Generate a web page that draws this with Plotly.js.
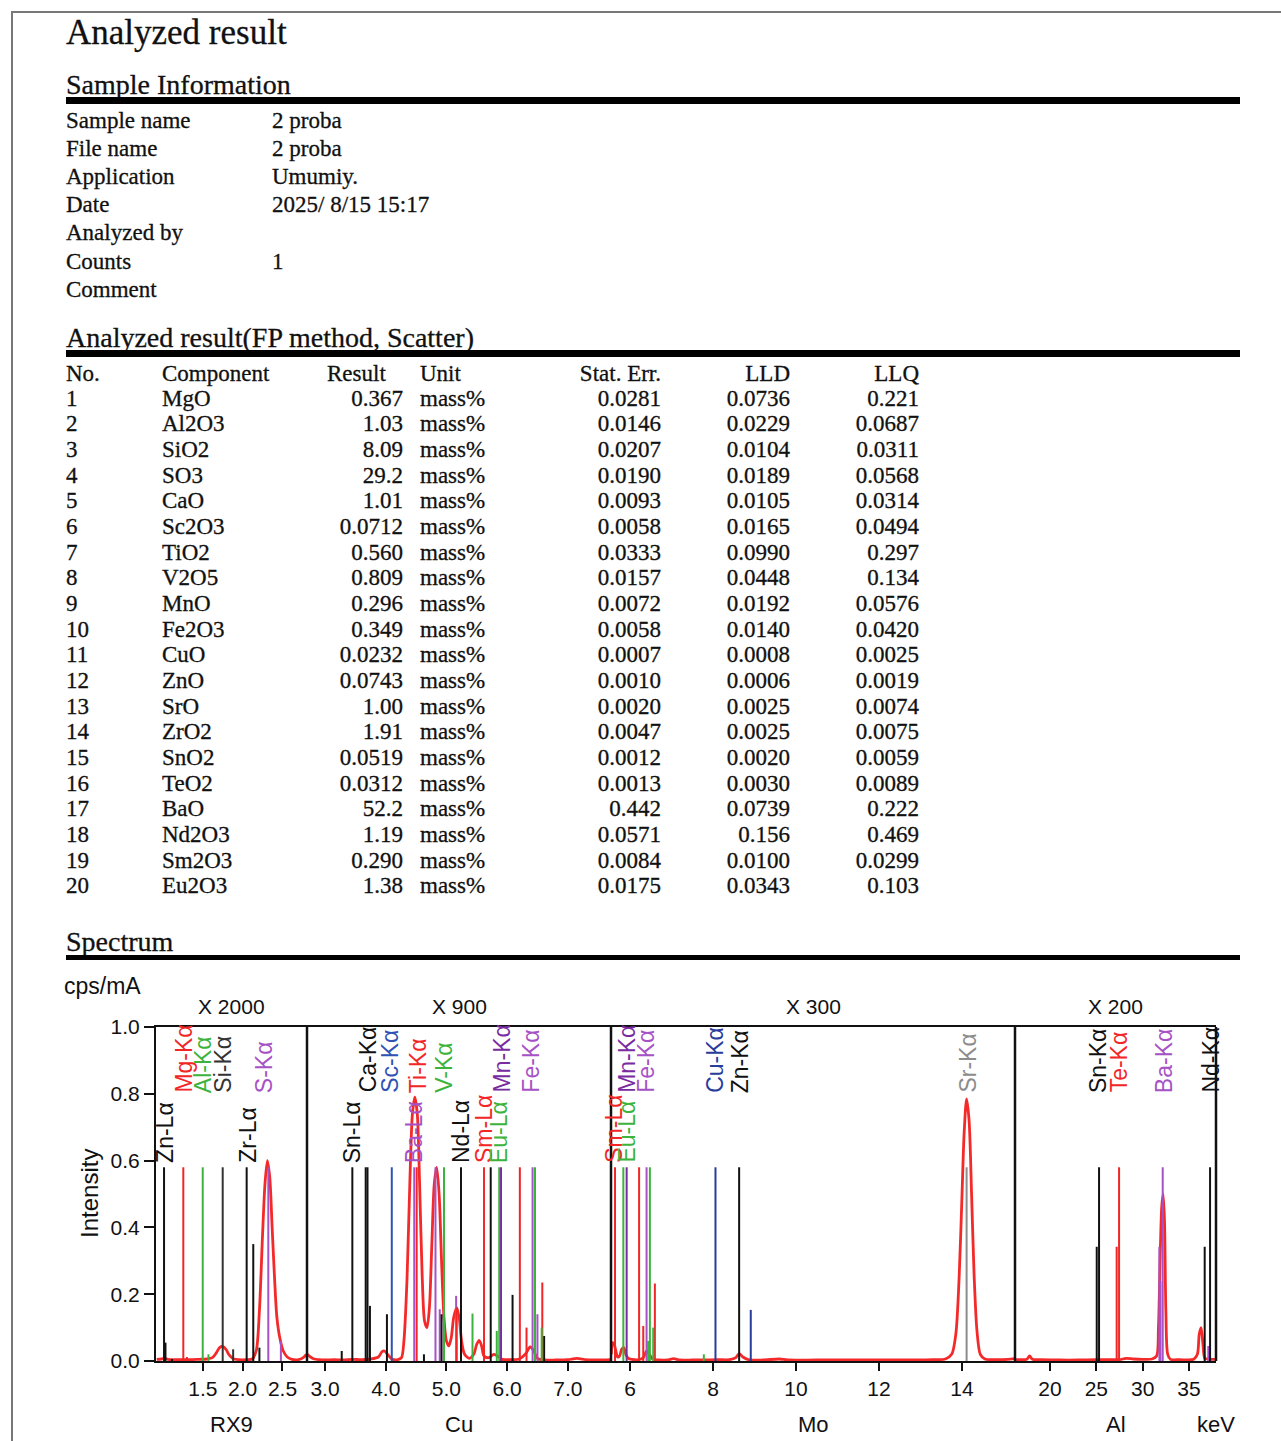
<!DOCTYPE html>
<html><head><meta charset="utf-8">
<script src="https://cdn.plot.ly/plotly-3.0.1.min.js"></script>
<style>
html,body{margin:0;padding:0;background:#fff;}
#page{position:relative;width:1281px;height:1441px;overflow:hidden;background:#fff;}
#frame{position:absolute;left:11px;top:11px;width:1400px;height:1500px;border-left:2px solid #777;border-top:2px solid #777;}
#report{position:absolute;left:0;top:0;}
#chart{position:absolute;left:0;top:960px;width:1281px;height:481px;}
</style></head><body>
<div id="page"><div id="frame"></div><svg id="report" width="1281" height="960"></svg><div id="chart"></div></div>
<script>
// ---------- Report text data ----------
const reportTitle = 'Analyzed result';
const sectionTitles = ['Sample Information', 'Analyzed result(FP method, Scatter)', 'Spectrum'];
const sampleFields = ['Sample name','File name','Application','Date','Analyzed by','Counts','Comment'];
const sampleValues = ['2 proba','2 proba','Umumiy.','2025/ 8/15 15:17','','1',''];
const tableHeaders = ['No.','Component','Result','Unit','Stat. Err.','LLD','LLQ'];
const compNo = ['1','2','3','4','5','6','7','8','9','10','11','12','13','14','15','16','17','18','19','20'];
const components = ['MgO','Al2O3','SiO2','SO3','CaO','Sc2O3','TiO2','V2O5','MnO','Fe2O3','CuO','ZnO','SrO','ZrO2','SnO2','TeO2','BaO','Nd2O3','Sm2O3','Eu2O3'];
const results = ['0.367','1.03','8.09','29.2','1.01','0.0712','0.560','0.809','0.296','0.349','0.0232','0.0743','1.00','1.91','0.0519','0.0312','52.2','1.19','0.290','1.38'];
const units = Array(20).fill('mass%');
const statErr = ['0.0281','0.0146','0.0207','0.0190','0.0093','0.0058','0.0333','0.0157','0.0072','0.0058','0.0007','0.0010','0.0020','0.0047','0.0012','0.0013','0.442','0.0571','0.0084','0.0175'];
const lld = ['0.0736','0.0229','0.0104','0.0189','0.0105','0.0165','0.0990','0.0448','0.0192','0.0140','0.0008','0.0006','0.0025','0.0025','0.0020','0.0030','0.0739','0.156','0.0100','0.0343'];
const llq = ['0.221','0.0687','0.0311','0.0568','0.0314','0.0494','0.297','0.134','0.0576','0.0420','0.0025','0.0019','0.0074','0.0075','0.0059','0.0089','0.222','0.469','0.0299','0.103'];

// ---------- Spectrum data (keV, intensity) ----------
const segTitles = ['X 2000','X 900','X 300','X 200'];
const segTargets = ['RX9','Cu','Mo','Al'];
const unitLabel = 'keV';
const yUnit = 'cps/mA';
const yTitle = 'Intensity';

const spec1X = [0.92,0.98,1.02,1.06,1.15,1.25,1.35,1.45,1.55,1.62,1.67,1.71,1.75,1.79,1.83,1.88,1.95,2.05,2.12,2.17,2.21,2.25,2.28,2.31,2.34,2.37,2.40,2.43,2.47,2.51,2.56,2.62,2.70,2.76,2.80];
const spec1Y = [0.005,0.006,0.008,0.005,0.004,0.004,0.004,0.005,0.006,0.01,0.025,0.04,0.044,0.035,0.018,0.007,0.004,0.004,0.006,0.03,0.15,0.38,0.53,0.60,0.55,0.40,0.25,0.13,0.065,0.03,0.012,0.005,0.004,0.01,0.02];

const spec2X = [2.71,2.76,2.82,2.90,3.0,3.15,3.3,3.45,3.6,3.75,3.88,3.94,3.98,4.03,4.10,4.20,4.26,4.30,4.35,4.40,4.44,4.48,4.52,4.56,4.60,4.64,4.68,4.72,4.76,4.80,4.84,4.88,4.92,4.96,5.00,5.04,5.08,5.12,5.17,5.21,5.25,5.30,5.38,5.45,5.50,5.54,5.58,5.62,5.70,5.78,5.84,5.92,6.05,6.20,6.30,6.38,6.44,6.50,6.60,6.80,7.00,7.15,7.30,7.50,7.70];
const spec2Y = [0.02,0.012,0.006,0.004,0.003,0.004,0.003,0.005,0.004,0.006,0.012,0.028,0.03,0.02,0.006,0.004,0.01,0.06,0.24,0.55,0.74,0.79,0.74,0.52,0.26,0.12,0.10,0.16,0.35,0.53,0.58,0.50,0.30,0.13,0.06,0.045,0.07,0.13,0.16,0.13,0.06,0.02,0.008,0.02,0.05,0.062,0.045,0.015,0.01,0.02,0.015,0.005,0.004,0.006,0.02,0.042,0.03,0.008,0.003,0.003,0.004,0.008,0.004,0.003,0.004];

const spec3X = [5.55,5.58,5.62,5.66,5.70,5.75,5.80,5.85,5.90,5.96,6.05,6.2,6.32,6.40,6.47,6.55,6.7,6.9,7.05,7.2,7.5,7.8,8.1,8.4,8.55,8.63,8.72,8.85,9.2,9.6,9.8,10.5,11.5,12.5,13.3,13.6,13.75,13.85,13.93,14.0,14.05,14.11,14.17,14.23,14.29,14.36,14.44,14.55,14.8,15.1,15.27];
const spec3Y = [0.02,0.055,0.05,0.03,0.012,0.015,0.035,0.04,0.02,0.008,0.005,0.004,0.01,0.03,0.02,0.005,0.003,0.003,0.007,0.003,0.003,0.003,0.004,0.004,0.01,0.022,0.012,0.004,0.003,0.006,0.003,0.003,0.003,0.003,0.004,0.006,0.02,0.08,0.25,0.50,0.68,0.785,0.72,0.50,0.26,0.09,0.02,0.006,0.004,0.005,0.007];

const spec4X = [16.3,17.0,17.5,17.8,18.1,19,21,23,25,26.5,27.5,28.2,29,30,31.0,31.5,31.7,31.9,32.05,32.2,32.35,32.5,32.7,33,34,35.5,35.9,36.1,36.3,36.5,36.7,37.0,37.4,37.9];
const spec4Y = [0.004,0.004,0.005,0.015,0.005,0.004,0.003,0.003,0.004,0.004,0.004,0.008,0.006,0.005,0.006,0.015,0.1,0.33,0.46,0.50,0.42,0.15,0.02,0.005,0.004,0.005,0.02,0.08,0.10,0.05,0.008,0.006,0.005,0.005];

// Reference (marker) lines: energy, height, element
const lines1E = [1.012,1.03,1.11,1.254,1.30,1.498,1.57,1.749,1.88,2.050,2.133,2.21,2.322,2.48];
const lines1H = [0.58,0.055,0.006,0.58,0.012,0.58,0.02,0.58,0.035,0.58,0.35,0.04,0.58,0.06];
const lines1El = ['Zn','Zn','Zn','Mg','Mg','Al','Al','Si','Si','Zr','Zr','Zr','S','S'];

const lines2E = [3.275,3.45,3.67,3.70,3.74,4.02,4.10,4.47,4.51,4.63,4.82,4.89,4.92,4.96,5.16,5.17,5.24,5.43,5.62,5.73,5.83,5.87,5.90,6.09,6.21,6.32,6.42,6.46,6.50,6.57,6.58,6.61];
const lines2H = [0.03,0.58,0.58,0.58,0.165,0.14,0.58,0.58,0.58,0.02,0.58,0.155,0.14,0.58,0.195,0.16,0.58,0.142,0.58,0.58,0.09,0.58,0.58,0.198,0.58,0.10,0.58,0.58,0.14,0.10,0.235,0.075];
const lines2El = ['Sn','Sn','Ca','Sn','Sn','Ca','Sc','Ba','Ti','Nd','Ba','Ba','Nd','V','Ba','Ti','Nd','V','Sm','Nd','Eu','Eu','Mn','Nd','Sm','Sm','Fe','Eu','Fe','Eu','Sm','Nd'];

const lines3E = [5.64,5.84,5.92,6.22,6.32,6.40,6.44,6.48,6.56,6.60,7.78,8.06,8.63,8.91,14.11];
const lines3H = [0.58,0.58,0.58,0.58,0.105,0.58,0.06,0.58,0.10,0.232,0.02,0.58,0.58,0.153,0.58];
const lines3El = ['Sm','Eu','Mn','Sm','Sm','Fe','Eu','Eu','Eu','Sm','Eu','Cu','Zn','Cu','Sr'];

const lines4E = [25.04,25.29,27.19,27.45,31.80,31.92,32.16,36.69,37.08,37.27];
const lines4H = [0.342,0.58,0.342,0.58,0.342,0.24,0.58,0.342,0.045,0.58];
const lines4El = ['Sn','Sn','Te','Te','Ba','Ba','Ba','Nd','Ba','Nd'];

// Line labels and their energies
const labels1 = ['Zn-Lα','Mg-Kα','Al-Kα','Si-Kα','Zr-Lα','S-Kα'];
const labels1E = [1.03,1.26,1.50,1.757,2.07,2.26];
const labels2 = ['Sn-Lα','Ca-Kα','Sc-Kα','Ba-Lα','Ti-Kα','V-Kα','Nd-Lα','Sm-Lα','Eu-Lα','Mn-Kα','Fe-Kα'];
const labels2E = [3.45,3.70,4.08,4.47,4.53,4.96,5.25,5.62,5.87,5.91,6.40];
const labels3 = ['Sm-Lα','Eu-Lα','Mn-Kα','Fe-Kα','Cu-Kα','Zn-Kα','Sr-Kα'];
const labels3E = [5.61,5.92,5.93,6.40,8.05,8.65,14.15];
const labels4 = ['Sn-Kα','Te-Kα','Ba-Kα','Nd-Kα'];
const labels4E = [25.2,27.45,32.23,37.35];

const xTicks1 = [1.5,2.0,2.5];
const xTicks2 = [3,4,5,6,7];
const xTicks3 = [6,8,10,12,14];
const xTicks4 = [20,25,30,35];
const yTicks = [0,0.2,0.4,0.6,0.8,1.0];

// ---------- Styles ----------
const elemColor = {
  Zn:'#111111', Mg:'#f22626', Al:'#3cb43c', Si:'#333333', Zr:'#111111', S:'#a652c6',
  Sn:'#111111', Ca:'#111111', Sc:'#2f52b4', Ba:'#a652c6', Ti:'#f22626', V:'#3cb43c',
  Nd:'#111111', Sm:'#f22626', Eu:'#3cb43c', Mn:'#782ca0', Fe:'#a652c6', Cu:'#283c9c',
  Sr:'#8c8c8c', Te:'#f22626'
};
const SERIF = '"Liberation Serif","Times New Roman",serif';
const SANS = '"Liberation Sans", Arial, sans-serif';

// ---------- Report drawing ----------
const NS = 'http://www.w3.org/2000/svg';
const svg = document.getElementById('report');
function txt(s, x, y, size, anchor) {
  if (!s) return;
  const t = document.createElementNS(NS, 'text');
  t.setAttribute('x', x); t.setAttribute('y', y);
  t.setAttribute('font-family', SERIF); t.setAttribute('font-size', size);
  t.setAttribute('fill', '#111'); t.setAttribute('stroke', '#111'); t.setAttribute('stroke-width', '0.3');
  t.setAttribute('xml:space', 'preserve');
  if (anchor) t.setAttribute('text-anchor', anchor);
  t.textContent = s; svg.appendChild(t);
}
function bar(y, h) {
  const r = document.createElementNS(NS, 'rect');
  r.setAttribute('x', 66); r.setAttribute('y', y); r.setAttribute('width', 1174); r.setAttribute('height', h);
  r.setAttribute('fill', '#000'); svg.appendChild(r);
}
txt(reportTitle, 66, 44, 35);
txt(sectionTitles[0], 66, 94, 28); bar(97, 7);
sampleFields.forEach((f, i) => { const y = 127.5 + 28.2 * i; txt(f, 66, y, 23); txt(sampleValues[i], 272, y, 23); });
txt(sectionTitles[1], 66, 347, 28); bar(350, 7);
txt(tableHeaders[0], 66, 380.5, 23); txt(tableHeaders[1], 162, 380.5, 23);
txt(tableHeaders[2], 327, 380.5, 23); txt(tableHeaders[3], 420, 380.5, 23);
txt(tableHeaders[4], 661, 380.5, 23, 'end'); txt(tableHeaders[5], 790, 380.5, 23, 'end'); txt(tableHeaders[6], 919, 380.5, 23, 'end');
compNo.forEach((n, i) => {
  const y = 405.5 + 25.68 * i;
  txt(n, 66, y, 23); txt(components[i], 162, y, 23);
  txt(results[i], 403, y, 23, 'end'); txt(units[i], 420, y, 23);
  txt(statErr[i], 661, y, 23, 'end'); txt(lld[i], 790, y, 23, 'end'); txt(llq[i], 919, y, 23, 'end');
});
txt(sectionTitles[2], 66, 951, 28); bar(955, 7);

// ---------- Spectrum chart ----------
const d1 = (307 - 156) / 1060, d2 = (611 - 156) / 1060, d3 = (1015 - 156) / 1060;
const segs = [
  {ax:'x',  sx:spec1X, sy:spec1Y, le:lines1E, lh:lines1H, lel:lines1El, lab:labels1, labE:labels1E},
  {ax:'x2', sx:spec2X, sy:spec2Y, le:lines2E, lh:lines2H, lel:lines2El, lab:labels2, labE:labels2E},
  {ax:'x3', sx:spec3X, sy:spec3Y, le:lines3E, lh:lines3H, lel:lines3El, lab:labels3, labE:labels3E},
  {ax:'x4', sx:spec4X, sy:spec4Y, le:lines4E, lh:lines4H, lel:lines4El, lab:labels4, labE:labels4E}
];
const traces = [];
const annotations = [];
segs.forEach((s, k) => {
  traces.push({type:'scatter', mode:'lines', x:s.sx, y:s.sy, xaxis:s.ax, yaxis:'y',
    line:{color:'#f42a2a', width:2.8, shape:'spline', smoothing:0.8}, hoverinfo:'skip'});
  const els = [...new Set(s.lel)];
  els.forEach(el => {
    const xs = [], ys = [];
    s.le.forEach((e, i) => { if (s.lel[i] === el) { xs.push(e, e, null); ys.push(0, s.lh[i], null); } });
    traces.push({type:'scatter', mode:'lines', x:xs, y:ys, xaxis:s.ax, yaxis:'y',
      line:{color:elemColor[el], width:2}, hoverinfo:'skip'});
  });
  s.lab.forEach((lab, i) => {
    const el = lab.split('-')[0];
    const isK = lab.indexOf('K') > 0;
    annotations.push({text:lab, x:s.labE[i], xref:s.ax, y:isK ? 0.80 : 0.59, yref:'y',
      xanchor:'center', yanchor:'bottom', textangle:-90, showarrow:false,
      font:{family:SANS, size:23, color:elemColor[el]}, borderpad:0});
  });
  const dref = s.ax + ' domain';
  annotations.push({text:segTitles[k], xref:dref, x:0.5, yref:'paper', y:1, yshift:21, yanchor:'middle', xanchor:'center', showarrow:false, font:{family:SANS, size:21, color:'#111'}});
  annotations.push({text:segTargets[k], xref:dref, x:0.5, yref:'paper', y:0, yshift:-63, yanchor:'middle', xanchor:'center', showarrow:false, font:{family:SANS, size:22, color:'#111'}});
});
annotations.push({text:unitLabel, xref:'paper', x:1, yref:'paper', y:0, yshift:-63, yanchor:'middle', xanchor:'center', showarrow:false, font:{family:SANS, size:22, color:'#111'}});
annotations.push({text:yUnit, xref:'paper', x:0, xshift:-54, yref:'paper', y:1, yshift:41, yanchor:'middle', xanchor:'center', showarrow:false, font:{family:SANS, size:23, color:'#111'}});
annotations.push({text:yTitle, xref:'paper', x:0, xshift:-67, yref:'paper', y:0.5, yanchor:'middle', xanchor:'center', textangle:-90, showarrow:false, font:{family:SANS, size:24, color:'#111'}});

const xCommon = {showline:true, mirror:true, linewidth:2, linecolor:'#111', ticks:'outside', ticklen:8, tickwidth:2, tickcolor:'#111',
  showgrid:false, zeroline:false, anchor:'y', fixedrange:true, tickfont:{family:SANS, size:21, color:'#111'}};
const layout = {
  width:1281, height:481,
  margin:{l:156, r:65, t:67, b:80},
  paper_bgcolor:'rgba(0,0,0,0)', plot_bgcolor:'rgba(0,0,0,0)',
  showlegend:false,
  font:{family:SANS, size:21, color:'#111'},
  xaxis: Object.assign({}, xCommon, {domain:[0, d1], range:[0.911, 2.808], tickvals:xTicks1, tickformat:'.1f'}),
  xaxis2: Object.assign({}, xCommon, {domain:[d1, d2], range:[2.703, 7.712], tickvals:xTicks2, tickformat:'.1f'}),
  xaxis3: Object.assign({}, xCommon, {domain:[d2, d3], range:[5.543, 15.276], tickvals:xTicks3}),
  xaxis4: Object.assign({}, xCommon, {domain:[d3, 1], range:[16.22, 37.91], tickvals:xTicks4}),
  yaxis: {domain:[0,1], range:[0,1], tickvals:yTicks, tickformat:'.1f', ticks:'outside', ticklen:10, tickwidth:2, tickcolor:'#111',
    showline:true, linewidth:2, linecolor:'#111', showgrid:false, zeroline:false, anchor:'x', fixedrange:true,
    tickfont:{family:SANS, size:21, color:'#111'}},
  shapes: [d1, d2, d3, 1].map(d => ({type:'line', xref:'paper', yref:'paper', x0:d, x1:d, y0:0, y1:1, line:{color:'#111', width:2.5}})),
  annotations: annotations
};
Plotly.newPlot('chart', traces, layout, {displayModeBar:false, staticPlot:true});
</script>
</body></html>
